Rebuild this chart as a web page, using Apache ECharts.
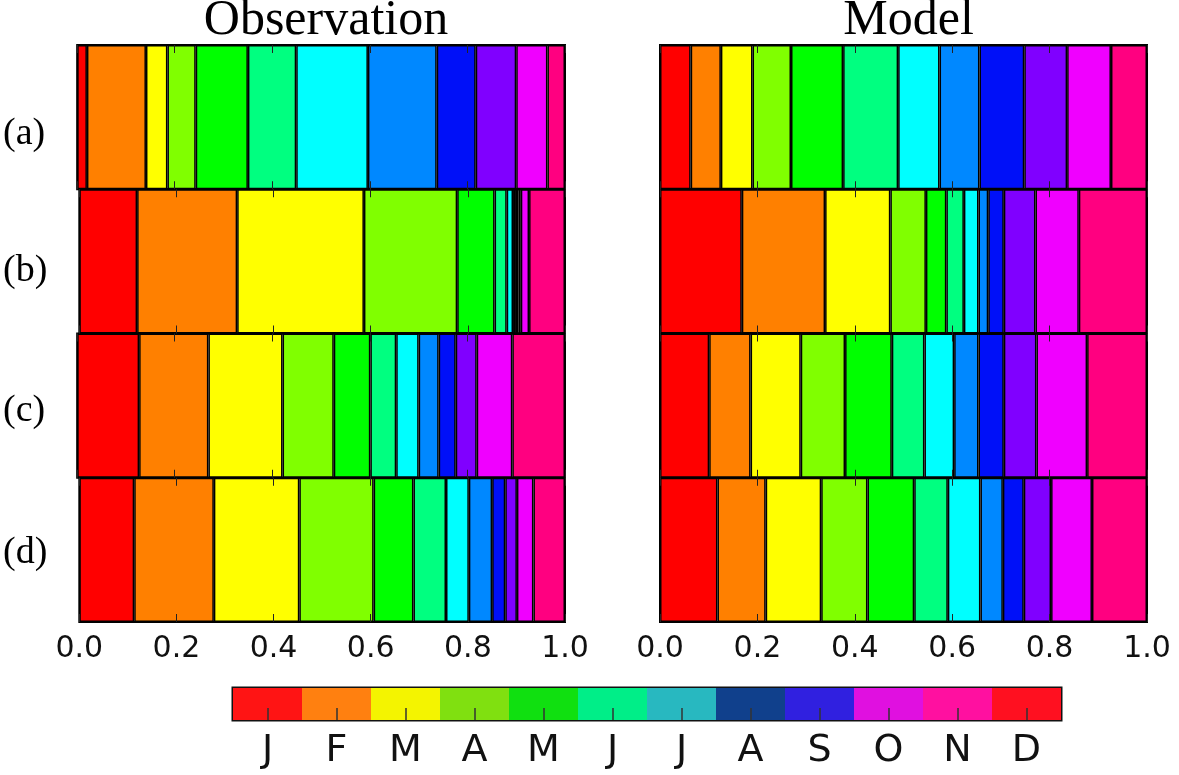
<!DOCTYPE html>
<html>
<head>
<meta charset="utf-8">
<script src="https://cdn.jsdelivr.net/npm/echarts@6/dist/echarts.min.js"></script>
<style>
html,body{margin:0;padding:0;background:#fff;}
#chart{width:1179px;height:775px;}
</style>
</head>
<body>
<div id="chart"></div>
<script>
// ---- data ----
const months = ['J','F','M','A','M','J','J','A','S','O','N','D'];
const rowLabels = ['(a)','(b)','(c)','(d)'];
const panelTitles = ['Observation','Model'];
const xTickLabels = ['0.0','0.2','0.4','0.6','0.8','1.0'];

// fraction of the year occupied by each month (J..D), one array per row
const obsA = [0.020,0.121,0.044,0.058,0.107,0.099,0.147,0.141,0.080,0.083,0.064,0.036];
const obsB = [0.119,0.206,0.261,0.192,0.077,0.025,0.013,0.006,0.005,0.005,0.017,0.074];
const obsC = [0.127,0.142,0.152,0.105,0.075,0.053,0.046,0.041,0.035,0.043,0.073,0.108];
const obsD = [0.113,0.164,0.176,0.153,0.082,0.067,0.047,0.048,0.027,0.024,0.034,0.065];
const modA = [0.063,0.062,0.065,0.079,0.107,0.113,0.085,0.082,0.092,0.088,0.090,0.074];
const modB = [0.168,0.171,0.134,0.073,0.042,0.036,0.030,0.020,0.032,0.065,0.089,0.140];
const modC = [0.101,0.085,0.103,0.091,0.096,0.067,0.061,0.050,0.052,0.067,0.104,0.123];
const modD = [0.118,0.099,0.114,0.095,0.096,0.069,0.067,0.046,0.043,0.056,0.084,0.113];

const barColors = ['#ff0000','#ff8000','#ffff00','#80ff00','#00ff00','#00ff80',
                   '#00ffff','#0088ff','#0010f8','#8000ff','#f000ff','#ff0080'];
const cbarColors = ['#ff1414','#ff8010','#f4f400','#80e010','#10e010','#00ee88',
                    '#28b8c0','#10408c','#3020e0','#e010e0','#ff10a0','#ff1020'];
const cbarValues = [1,1,1,1,1,1,1,1,1,1,1,1];

// ---- layout ----
const panels = [
  {left:77, width:488, rows:[obsA,obsB,obsC,obsD], showY:true},
  {left:660, width:487, rows:[modA,modB,modC,modD], showY:false}
];
const top0 = 45, rowH = 144.25;
// vertical position of the row label inside each row (0 = bottom, 1 = top)
const labelPos = [0.38, 0.43, 0.465, 0.48];

const grids = [], xAxes = [], yAxes = [], series = [];
panels.forEach((p, pi) => {
  p.rows.forEach((row, r) => {
    const gi = grids.length;
    grids.push({left:p.left, top:top0 + r*rowH, width:p.width, height:rowH,
      show:true, borderColor:'#000', borderWidth:2, backgroundColor:'transparent'});
    const tick = {show:true, inside:true, length:8, lineStyle:{color:'#222', width:1}};
    xAxes.push({gridIndex:gi, type:'value', min:0, max:1, interval:0.2, position:'bottom', z:5,
      axisLine:{show:false}, splitLine:{show:false}, axisTick:tick,
      axisLabel:{show:r===3, margin:12, fontFamily:'DejaVu Sans', fontSize:30, color:'#111',
        formatter:(v)=>xTickLabels[Math.round(v*5)]}});
    xAxes.push({gridIndex:gi, type:'value', min:0, max:1, interval:0.2, position:'top', z:5,
      axisLine:{show:false}, splitLine:{show:false}, axisTick:tick, axisLabel:{show:false}});
    const yCat = yAxes.length;
    yAxes.push({gridIndex:gi, type:'category', data:[rowLabels[r]], show:false});
    if (p.showY) {
      yAxes.push({gridIndex:gi, type:'value', min:0, max:1, position:'left',
        axisLine:{show:false}, axisTick:{show:false}, splitLine:{show:false},
        axisLabel:{show:true, customValues:[labelPos[r]], margin:32,
          fontFamily:'Liberation Serif', fontSize:38, color:'#000',
          formatter:()=>rowLabels[r]}});
    }
    row.forEach((v, m) => {
      series.push({type:'bar', xAxisIndex:2*gi, yAxisIndex:yCat, stack:'s'+gi, barWidth:'100%',
        silent:true, data:[v],
        itemStyle:{color:barColors[m], borderColor:'#000', borderWidth:1.5}});
    });
  });
});

// colorbar
grids.push({left:233, top:688, width:828, height:32, show:true, borderColor:'#111', borderWidth:3,
  backgroundColor:'transparent'});
const cg = grids.length - 1;
xAxes.push({gridIndex:cg, type:'category', data:months, z:5,
  axisLine:{show:false}, splitLine:{show:false},
  axisTick:{show:true, inside:true, alignWithLabel:true, length:12, lineStyle:{color:'#333', width:1.5}},
  axisLabel:{margin:12, fontFamily:'DejaVu Sans', fontSize:38, color:'#111'}});
yAxes.push({gridIndex:cg, type:'value', min:0, max:1, show:false});
series.push({type:'bar', xAxisIndex:xAxes.length-1, yAxisIndex:yAxes.length-1, barWidth:'100%', silent:true,
  data:cbarValues.map((v,i)=>({value:v, itemStyle:{color:cbarColors[i]}}))});

const chart = echarts.init(document.getElementById('chart'));
chart.setOption({
  animation:false,
  backgroundColor:'#fff',
  title: panelTitles.map((t,i)=>({
    text:t, left:panels[i].left + panels[i].width/2, top:-9, textAlign:'center',
    textStyle:{fontFamily:'Liberation Serif', fontSize:50, fontWeight:'normal', color:'#000'}
  })),
  grid:grids, xAxis:xAxes, yAxis:yAxes, series:series
});
</script>
</body>
</html>
